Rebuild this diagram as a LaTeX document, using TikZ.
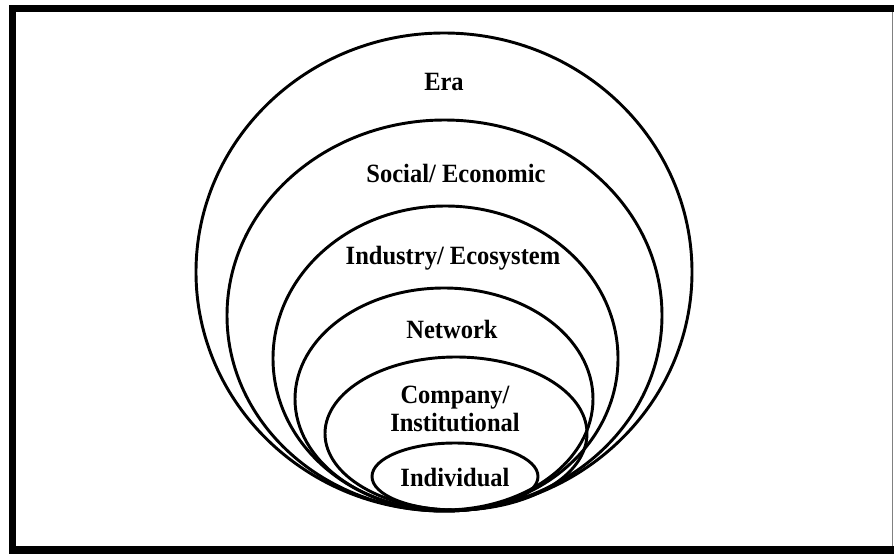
\documentclass[tikz,border=0pt]{standalone}
\usepackage{fontspec}
\setmainfont[FakeStretch=0.93]{Liberation Serif}
\begin{document}
\begin{tikzpicture}[x=0.03cm, y=-0.03cm,
      ring/.style = {draw, line width=2.5pt},
      layertext/.style = {font=\bfseries\fontsize{22.5}{24}\selectfont, align=center, inner sep=0pt}]
      \useasboundingbox (0,0) rectangle (894,556);
      \fill[white] (0,0) rectangle (894,556);

      % frame
      \draw[line width=6pt] (894,8.5) -- (12.5,8.5) -- (12.5,550) -- (894,550);
      \draw[gray, line width=0.6pt] (892.5,12) -- (892.5,546);

      % nested rings
      \draw[ring] (444,272) ellipse (248 and 239);
      \draw[ring] (444.5,315.5) ellipse (217.5 and 195.5);
      \draw[ring] (445.5,358.5) ellipse (172.5 and 152.5);
      \draw[ring] (444,399) ellipse (149 and 111);
      \draw[ring] (456,433.5) ellipse (131 and 76.5);
      \draw[ring] (455,476.5) ellipse (83 and 33.5);

      \node[layertext] (era) at (444,82) {Era};
      \node[layertext] (social) at (456,173) {Social/ Economic};
      \node[layertext] (industry) at (453,258) {Industry/ Ecosystem};
      \node[layertext] (network) at (452,329) {Network};
      \node[layertext] (company) at (455,409) {Company/\\Institutional};
      \node[layertext] (individual) at (455,478) {Individual};

    \end{tikzpicture}
\end{document}
